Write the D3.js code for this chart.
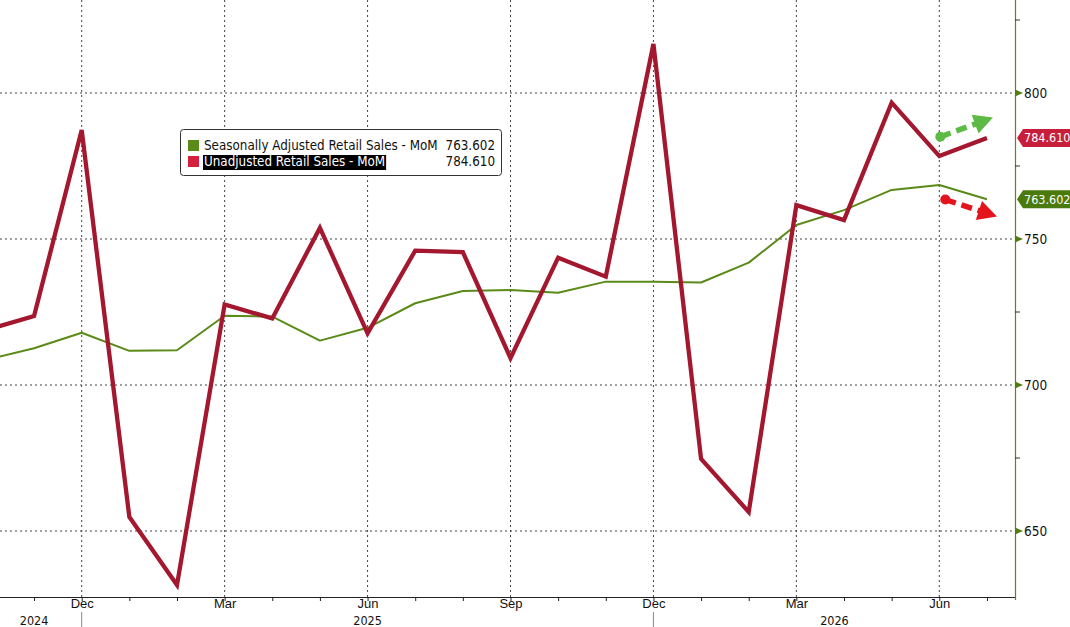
<!DOCTYPE html>
<html><head><meta charset="utf-8">
<script src="https://cdn.jsdelivr.net/npm/d3@7"></script>
<style>
html,body{margin:0;padding:0;background:#fff;}
svg{display:block;font-family:"DejaVu Sans Condensed","DejaVu Sans","Liberation Sans",sans-serif;}
</style></head>
<body><svg id="c" width="1070" height="627"></svg>
<script>
// Month labels (Oct 2024 .. Jul 2026)
const months = ["Oct 2024","Nov 2024","Dec 2024","Jan 2025","Feb 2025","Mar 2025","Apr 2025","May 2025","Jun 2025","Jul 2025","Aug 2025","Sep 2025","Oct 2025","Nov 2025","Dec 2025","Jan 2026","Feb 2026","Mar 2026","Apr 2026","May 2026","Jun 2026","Jul 2026"];
const unadjusted = [718.8,723.6,787.3,654.8,631.5,727.6,722.8,753.8,717.7,746.0,745.5,709.2,743.6,737.1,816.8,674.7,656.5,761.6,756.5,796.7,778.4,784.61];
const adjusted   = [708.6,712.6,717.9,711.7,711.9,723.7,723.4,715.2,719.6,728.0,732.2,732.5,731.6,735.4,735.4,735.1,741.9,754.8,759.9,766.8,768.5,763.602];
const yTicks = [650,700,750,800];
const yMinorTicks = [675,725,775,825];
const seriesNames = ["Seasonally Adjusted Retail Sales - MoM","Unadjusted Retail Sales - MoM"];
const lastValues = ["763.602","784.610"];
const yearLabels = [{label:"2024", idx:1},{label:"2025", idx:8},{label:"2026", idx:17.8}];

const W=1070,H=627, plotR=1015, plotB=597;
const svg=d3.select("#c");
const x=d3.scaleLinear().domain([2,20]).range([81.7,939.3]);
const y=d3.scaleLinear().domain([650,800]).range([531,93]);
const RED="#a3172f", GREEN="#5a8a17";
const FS=13.5;

svg.append("defs").append("clipPath").attr("id","clip")
  .append("rect").attr("x",0).attr("y",0).attr("width",plotR).attr("height",plotB);

// grid
const grid=svg.append("g");
grid.selectAll("line.h").data(yTicks).join("line")
  .attr("x1",0).attr("x2",plotR).attr("y1",d=>y(d)).attr("y2",d=>y(d))
  .attr("stroke","#444").attr("stroke-width",1).attr("stroke-dasharray","2,3");
const qIdx=d3.range(0,22).filter(i=>months[i].match(/^(Dec|Mar|Jun|Sep)/));
grid.selectAll("line.v").data(qIdx).join("line")
  .attr("x1",d=>x(d)).attr("x2",d=>x(d)).attr("y1",0).attr("y2",plotB)
  .attr("stroke","#444").attr("stroke-width",1).attr("stroke-dasharray","2,3");

// lines
const line=d3.line().x((d,i)=>x(i)).y(d=>y(d));
const pg=svg.append("g").attr("clip-path","url(#clip)");
pg.append("path").datum(adjusted).attr("d",line).attr("fill","none")
  .attr("stroke",GREEN).attr("stroke-width",2).attr("stroke-linejoin","round");
pg.append("path").datum(unadjusted).attr("d",line).attr("fill","none")
  .attr("stroke",RED).attr("stroke-width",4.3).attr("stroke-linejoin","miter");

// arrows (annotations)
function arrow(x1,y1,x2,y2,col){
  const g=svg.append("g");
  const ang=Math.atan2(y2-y1,x2-x1);
  const hl=19, hw=10;
  const bx=x2-hl*Math.cos(ang), by=y2-hl*Math.sin(ang);
  g.append("line").attr("x1",x1).attr("y1",y1).attr("x2",bx+2*Math.cos(ang)).attr("y2",by+2*Math.sin(ang))
    .attr("stroke",col).attr("stroke-width",5.5).attr("stroke-dasharray","11,6");
  g.append("circle").attr("cx",x1).attr("cy",y1).attr("r",5).attr("fill",col);
  const px=-Math.sin(ang), py=Math.cos(ang);
  g.append("path").attr("d",`M${x2},${y2}L${bx+px*hw},${by+py*hw}L${bx-px*hw},${by-py*hw}Z`).attr("fill",col);
}
arrow(x(20)+1,y(785.0),x(21)+6,y(791.6),"#5dbb45");
arrow(x(20)+6,y(763.5),x(21)+10,y(757.7),"#e3141b");

// right axis
const ax=svg.append("g");
ax.append("line").attr("x1",plotR+0.5).attr("x2",plotR+0.5).attr("y1",0).attr("y2",plotB+3)
  .attr("stroke","#6b7d1a").attr("stroke-width",1.2);
ax.selectAll("path.tri").data(yTicks).join("path")
  .attr("d",d=>`M${plotR},${y(d)-3.5}L${plotR+8},${y(d)}L${plotR},${y(d)+3.5}Z`).attr("fill","#4f7d10");
ax.selectAll("line.mt").data(yMinorTicks).join("line")
  .attr("x1",plotR).attr("x2",plotR+5).attr("y1",d=>y(d)).attr("y2",d=>y(d)).attr("stroke","#333");
ax.selectAll("text").data(yTicks).join("text")
  .attr("x",plotR+9).attr("y",d=>y(d)+5).text(d=>d).attr("font-size",FS).attr("fill","#111");

// value tags
function tag(v,txt,col){
  const yy=y(v), h=18;
  svg.append("path").attr("d",`M${plotR+2},${yy}L${plotR+8},${yy-h/2}L${W},${yy-h/2}L${W},${yy+h/2}L${plotR+8},${yy+h/2}Z`).attr("fill",col);
  svg.append("text").attr("x",plotR+9).attr("y",yy+4.5).text(txt).attr("font-size",12.5).attr("fill","#fff");
}
tag(784.61,lastValues[1],"#c71f3b");
tag(763.602,lastValues[0],"#4a7a0c");

// bottom axis
const bx=d3.axisBottom(x).tickValues(d3.range(1,22)).tickSize(4).tickFormat(i=>{
  const m=months[i].slice(0,3); return ["Dec","Mar","Jun","Sep"].includes(m)?m:"";});
const bg=svg.append("g").attr("transform",`translate(0,${plotB})`).call(bx);
bg.select(".domain").remove();
bg.selectAll(".tick line").attr("stroke","#222");
bg.selectAll(".tick text").attr("font-size",13).attr("fill","#111").attr("dy","0.3em").attr("font-family",null);
svg.append("line").attr("x1",0).attr("x2",plotR).attr("y1",plotB+0.5).attr("y2",plotB+0.5).attr("stroke","#222");
// year separators at Dec
svg.selectAll("line.ys").data([2,14]).join("line").attr("x1",d=>x(d)).attr("x2",d=>x(d))
  .attr("y1",612).attr("y2",H).attr("stroke","#888");
svg.selectAll("text.yr").data(yearLabels).join("text").attr("x",d=>x(d.idx)).attr("y",624.5)
  .attr("text-anchor","middle").attr("font-size",12.5).attr("fill","#111").text(d=>d.label);

// legend
const lg=svg.append("g");
lg.append("rect").attr("x",180.5).attr("y",129.5).attr("width",321).attr("height",46).attr("rx",3)
  .attr("fill","#fff").attr("stroke","#333");
const cols=[GREEN,"#d61f3c"];
seriesNames.forEach((n,i)=>{
  const yy=139+i*16;
  lg.append("rect").attr("x",188).attr("y",yy+1).attr("width",11).attr("height",11).attr("fill",cols[i]);
  const t=lg.append("text").attr("x",204).attr("y",yy+11).attr("font-size",13.3).text(n).attr("fill",i?"#fff":"#111");
  if(i===1){
    const bb=t.node().getBBox();
    lg.insert("rect","text:last-of-type").attr("x",bb.x-1).attr("y",yy).attr("width",bb.width+2).attr("height",15).attr("fill","#000");
    t.raise();
  }
  lg.append("text").attr("x",495).attr("y",yy+11).attr("text-anchor","end").attr("font-size",13.3).attr("fill","#111").text(lastValues[i]);
});
</script></body></html>
